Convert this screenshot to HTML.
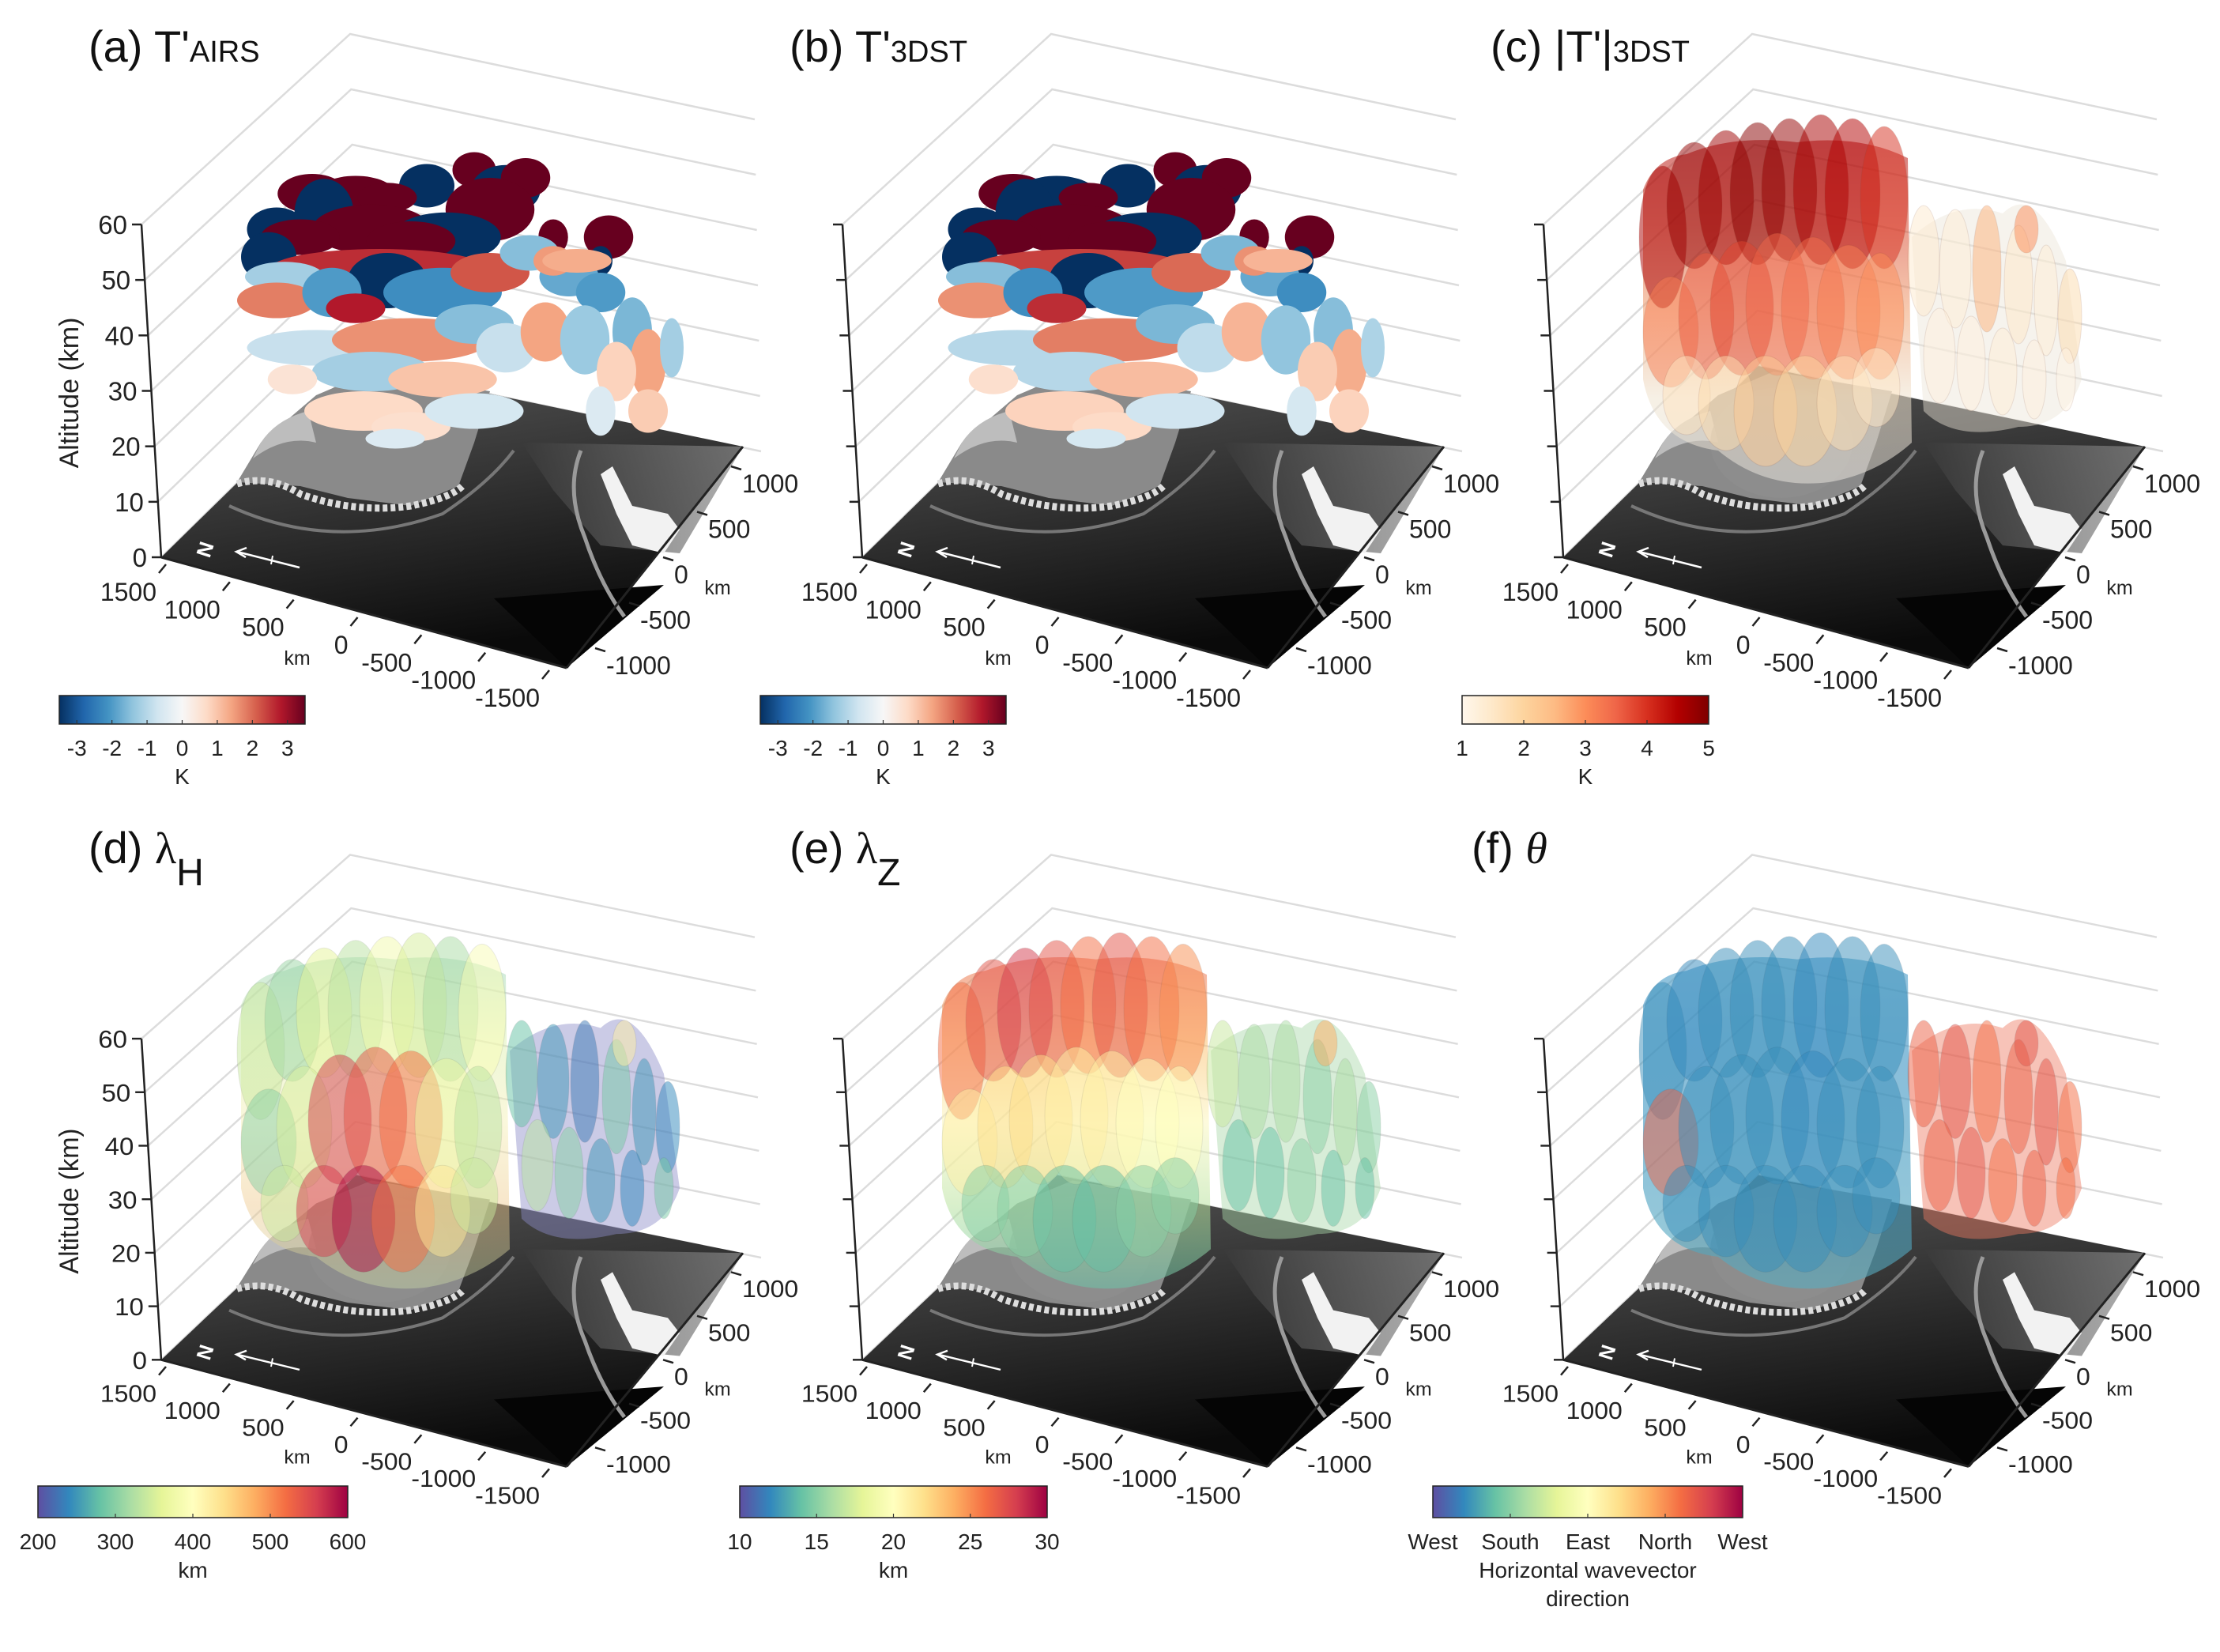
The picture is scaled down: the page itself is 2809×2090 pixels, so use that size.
<!DOCTYPE html>
<html><head><meta charset="utf-8"><style>
html,body{margin:0;padding:0;background:#fff;}
svg{display:block;font-family:"Liberation Sans",sans-serif;}
</style></head><body>
<svg id="fig" xmlns="http://www.w3.org/2000/svg" width="2809" height="2090" viewBox="0 0 2809 2090">
<defs>
<linearGradient id="floorGrad" x1="0" y1="0" x2="0.3" y2="1">
<stop offset="0" stop-color="#5a5a5a"/><stop offset="0.5" stop-color="#333"/><stop offset="1" stop-color="#0a0a0a"/></linearGradient>
<linearGradient id="rightGrad" x1="0" y1="0" x2="1" y2="0">
<stop offset="0" stop-color="#3a3a3a"/><stop offset="1" stop-color="#8a8a8a"/></linearGradient>
</defs>
</svg>
<script>
// ---------- data ----------
const altTicks = [0,10,20,30,40,50,60];
const xTicks = [1500,1000,500,0,-500,-1000,-1500];
const yTicks = [1000,500,0,-500,-1000];
const cbTicksA = [-3,-2,-1,0,1,2,3];
const cbTicksC = [1,2,3,4,5];
const cbTicksD = [200,300,400,500,600];
const cbTicksE = [10,15,20,25,30];
const cbTicksF = ["West","South","East","North","West"];
// blob layout for AIRS/3DST perturbation panels: [cx, cy, rx, ry]
const blobPosAB = [[600,215,22,18],[640,240,35,25],[665,225,25,20],[395,245,35,20],[450,245,40,18],[540,235,28,22],[490,250,30,15],[620,265,45,32],[350,290,30,22],[410,270,30,35],[470,290,60,25],[380,300,40,18],[565,300,55,25],[340,325,28,25],[520,305,45,20],[770,300,25,22],[760,330,12,15],[700,300,15,18],
[480,340,110,20],[490,355,40,28],[360,350,40,15],[350,380,40,18],[420,370,30,25],[450,390,30,15],[560,370,60,25],[620,345,40,20],[670,320,30,18],[720,350,30,20],[760,370,25,20],[700,330,20,15],[730,330,35,12],
[400,440,70,18],[520,430,80,22],[600,410,40,20],[640,440,30,25],[470,470,60,20],[560,480,55,18],[690,420,25,30],[740,430,25,35],[800,420,20,35],[820,460,18,35],[780,470,20,30],[850,440,12,30],
[460,520,60,20],[520,540,40,15],[370,480,25,15],[600,520,50,18],[820,520,20,22],[760,520,15,25],[500,555,30,10]];
const valuesA = [3.5,-3.5,3.5,3.5,3.5,-3.5,3.5,3.5,-3.5,-3.5,3.5,3.5,-3.5,-3.5,3.5,3.5,-3.5,3.5,
2.6,-3.5,-1.2,1.8,-2.0,2.8,-2.2,2.2,-1.5,-1.8,-2.0,1.5,1.3,
-0.8,1.6,-1.5,-0.8,-1.2,1.0,1.4,-1.3,-1.6,1.4,0.8,-1.2,
0.7,0.6,0.5,-0.6,0.9,-0.5,-0.5];
const valuesB = [3.5,-3.5,3.5,3.5,-3.5,-3.5,3.5,3.5,-3.5,-3.5,3.5,3.5,-3.5,-3.5,3.5,3.5,-3.5,3.5,
2.4,-3.5,-1.5,1.6,-2.2,2.6,-2.0,2.0,-1.6,-1.8,-2.2,1.6,1.2,
-1.0,1.8,-1.6,-0.9,-1.0,1.1,1.2,-1.4,-1.5,1.3,0.9,-1.1,
0.8,0.7,0.6,-0.7,0.8,-0.6,-0.6];
// column layout for 3DST derived fields: [cx, cy, rx, ry]
const colPos = [[330,300,30,90],[370,260,35,80],[410,250,35,85],[450,245,35,90],[490,240,35,90],[530,240,35,95],[570,245,35,95],[610,250,30,90],
[340,420,35,70],[385,400,35,80],[430,390,40,85],[475,385,40,90],[520,390,40,90],[565,395,40,85],[605,400,30,80],
[360,500,30,50],[410,510,35,60],[460,520,40,70],[510,520,40,70],[560,510,35,60],[600,490,30,50],
[660,330,20,70],[700,340,20,75],[740,340,18,80],[780,360,18,75],[815,380,15,70],[845,400,15,60],[680,450,20,60],[720,460,18,60],[760,470,18,55],[800,480,15,50],[840,480,12,40],[790,290,15,30]];
const valuesC = [4.6,4.8,4.7,4.9,4.8,4.6,4.5,4.0, 3.2,3.6,3.8,3.5,3.4,3.2,3.0, 1.6,1.8,2.2,2.0,1.7,1.5, 1.4,1.3,2.6,1.5,1.3,1.8,1.2,1.2,1.3,1.2,1.1,3.0];
const valuesD = [340,310,360,330,380,350,320,390, 300,350,560,540,520,370,330, 340,560,590,520,430,340, 280,250,230,290,250,240,330,300,250,240,290,420];
const valuesE = [26,27,28,27,26,27,26,25, 21,22,22,21,21,20,20, 15,15,14,14,15,15, 17,16,16,15,16,15,14,14,15,14,14,24];
const valuesF = [0.45,0.4,0.45,0.45,0.45,0.4,0.45,0.45, 3.3,0.45,0.45,0.45,0.4,0.45,0.45, 0.45,0.45,0.45,0.45,0.45,0.45, 3.3,3.4,3.2,3.3,3.4,3.2,3.3,3.4,3.2,3.3,3.2,3.4];

// ---------- colormaps ----------
const RdBu = ["#053061","#2166ac","#4393c3","#92c5de","#d1e5f0","#f7f7f7","#fddbc7","#f4a582","#d6604d","#b2182b","#67001f"];
const OrRd = ["#fff7ec","#fee8c8","#fdd49e","#fdbb84","#fc8d59","#ef6548","#d7301f","#b30000","#7f0000"];
const Spec = ["#5e4fa2","#3288bd","#66c2a5","#abdda4","#e6f598","#ffffbf","#fee08b","#fdae61","#f46d43","#d53e4f","#9e0142"];
function hex(c){return [parseInt(c.substr(1,2),16),parseInt(c.substr(3,2),16),parseInt(c.substr(5,2),16)];}
function cmap(stops,t){t=Math.max(0,Math.min(1,t));const p=t*(stops.length-1);const i=Math.min(stops.length-2,Math.floor(p));const f=p-i;const a=hex(stops[i]),b=hex(stops[i+1]);
return "rgb("+a.map((v,k)=>Math.round(v+(b[k]-v)*f)).join(",")+")";}

const NS="http://www.w3.org/2000/svg";
const svg=document.getElementById("fig");
const defs=svg.querySelector("defs");
function mk(tag,attrs,parent){const e=document.createElementNS(NS,tag);for(const k in attrs)e.setAttribute(k,attrs[k]);parent.appendChild(e);return e;}

// axis functions (panel-local coordinates)
function altPt(a){const f=(60-a)/60;return [179+f*25,284+f*421];}
function backPt(a){const f=(60-a)/60;return [443+f*8,43+f*420];}
function xPt(v){const t=(1500-v)/3000;return [210+t*485,714+t*134];}
function yPt(v){const t=(1000-v)/2000;return [925-t*172,590+t*230];}

let gradId=0;
function colorbar(parent,x0,x1,y0,y1,stops,ticks,tickPos,unitLines,name){
  const id="cb"+(gradId++);
  const lg=mk("linearGradient",{id:id,x1:0,y1:0,x2:1,y2:0},defs);
  stops.forEach((c,i)=>mk("stop",{offset:i/(stops.length-1),"stop-color":c},lg));
  const g=mk("g",{},parent);
  
  
  const r=mk("rect",{x:x0,y:y0,width:x1-x0,height:y1-y0,fill:"url(#"+id+")",stroke:"#222","stroke-width":1.5},g);
  
  
  ticks.forEach((t,i)=>{
    const x=x0+tickPos(i)*(x1-x0);
    mk("line",{x1:x,y1:y1,x2:x,y2:y1-5,stroke:"#333","stroke-width":1.2},g);
    const tx=mk("text",{x:x,y:y1+40,"font-size":28,"text-anchor":"middle",fill:"#222"},g);
    tx.textContent=String(t);
    
    
  });
  unitLines.forEach((u,i)=>{
    const tx=mk("text",{x:(x0+x1)/2,y:y1+76+i*36,"font-size":28,"text-anchor":"middle",fill:"#222"},g);
    tx.textContent=u;
    
    
  });
}

function panel(ox,oy,sy,opts){
  const g=mk("g",{transform:"translate("+ox+","+oy+") scale(1,"+sy+")"},svg);
  
  
  altTicks.forEach(a=>{
    const p=altPt(a),b=backPt(a);
    const ln=mk("polyline",{points:p.join(",")+" "+b.join(",")+" "+(b[0]+512)+","+(b[1]+108),fill:"none",stroke:"#dcdcdc","stroke-width":2.5},g);
    
    
  });
  const fl=mk("g",{},g);
  
  
  mk("polygon",{points:"204,705 451,463 940,565 717,845",fill:"url(#floorGrad)"},fl);
  mk("polygon",{points:"660,560 940,565 860,700 760,690 700,620",fill:"url(#rightGrad)",opacity:0.7},fl);
  mk("polygon",{points:"717,845 625,757 840,740",fill:"#050505"},fl);
  mk("path",{d:"M300,610 L330,560 L400,500 L470,470 L620,495 L600,560 L580,615 L520,640 L440,630 L380,615 Z",fill:"#8a8a8a"},fl);
  mk("path",{d:"M300,612 Q340,600 380,625 Q450,650 520,640 Q570,630 585,615",fill:"none",stroke:"#ddd","stroke-width":9,"stroke-dasharray":"6,4"},fl);
  mk("path",{d:"M320,580 Q360,550 400,560 L390,520 Q350,530 330,560 Z",fill:"#bdbdbd"},fl);
  mk("path",{d:"M760,600 L775,590 L800,640 L845,650 L860,670 L840,700 L800,690 L780,650 Z",fill:"#f2f2f2"},fl);
  mk("path",{d:"M290,640 Q420,700 560,650 Q620,610 650,570",fill:"none",stroke:"#777","stroke-width":4},fl);
  mk("path",{d:"M735,570 Q715,620 740,680 Q760,740 790,780",fill:"none",stroke:"#9a9a9a","stroke-width":5},fl);
  if(opts.gray){mk("ellipse",{cx:480,cy:560,rx:90,ry:70,fill:"#8f8f8f",opacity:0.7},g);}
  const mg=mk("g",{},g);
  
  
  if(opts.silhouette){
    const id="sil"+(gradId++);
    const lg=mk("linearGradient",{id:id,x1:0,y1:0,x2:0,y2:1},defs);
    opts.silhouette.forEach((c,i)=>mk("stop",{offset:i/(opts.silhouette.length-1),"stop-color":c},lg));
    mk("path",{d:"M305,240 Q320,200 360,195 Q420,170 500,180 Q580,170 640,200 L645,560 Q600,600 540,610 Q460,620 400,570 Q320,560 305,480 Z",fill:"url(#"+id+")",opacity:opts.silOp},mg);
    mk("path",{d:"M645,300 Q700,250 760,270 Q800,230 840,330 L860,480 Q840,540 780,540 Q700,560 660,520 Z",fill:opts.rightFill,opacity:0.45},mg);
  }
  const sx=opts.sx||1, syb=opts.syb||1;
  opts.pos.forEach((p,i)=>{
    const e=mk("ellipse",{cx:p[0],cy:p[1],rx:p[2]*sx,ry:p[3]*syb,fill:cmap(opts.stops,opts.norm(opts.vals[i])),opacity:opts.op,stroke:opts.stroke||"none","stroke-width":1},mg);
    
    
  });
  const ax=mk("g",{},g);
  
  
  const a0=altPt(0),a60=altPt(60);
  mk("line",{x1:a0[0],y1:a0[1],x2:a60[0],y2:a60[1],stroke:"#222","stroke-width":2.5},ax);
  altTicks.forEach(a=>{
    const p=altPt(a);
    mk("line",{x1:p[0],y1:p[1],x2:p[0]-12,y2:p[1],stroke:"#222","stroke-width":2.5},ax);
    if(opts.labels){
      const t=mk("text",{x:p[0]-18,y:p[1]+12,"font-size":33,"text-anchor":"end",fill:"#222"},ax);
      t.textContent=String(a);
      
      
    }
  });
  if(opts.labels){
    const t=mk("text",{x:0,y:0,"font-size":34,"text-anchor":"middle",fill:"#222",transform:"translate(99,497) rotate(-90)"},ax);
    t.textContent="Altitude (km)";
    
    
  }
  mk("line",{x1:204,y1:705,x2:717,y2:845,stroke:"#222","stroke-width":3},ax);
  mk("line",{x1:717,y1:845,x2:940,y2:565,stroke:"#222","stroke-width":3},ax);
  xTicks.forEach(v=>{
    const p=xPt(v);
    mk("line",{x1:p[0],y1:p[1],x2:p[0]-9,y2:p[1]+11,stroke:"#222","stroke-width":2.5},ax);
    const t=mk("text",{x:p[0]-12,y:p[1]+46,"font-size":32,"text-anchor":"end",fill:"#222"},ax);
    t.textContent=String(v);
    
    
  });
  yTicks.forEach(v=>{
    const p=yPt(v);
    mk("line",{x1:p[0],y1:p[1],x2:p[0]+13,y2:p[1]+4,stroke:"#222","stroke-width":2.5},ax);
    const t=mk("text",{x:p[0]+14,y:p[1]+33,"font-size":32,"text-anchor":"start",fill:"#222"},ax);
    t.textContent=String(v);
    
    
  });
  const k1=mk("text",{x:376,y:841,"font-size":25,"text-anchor":"middle",fill:"#222"},ax);
  k1.textContent="km";
  
  
  const k2=mk("text",{x:908,y:752,"font-size":25,"text-anchor":"middle",fill:"#222"},ax);
  k2.textContent="km";
  
  
  const na=mk("g",{},g);
  
  
  const nt=mk("text",{x:0,y:0,"font-size":26,"font-weight":"bold",fill:"#fff","text-anchor":"middle",transform:"translate(268,698) rotate(-72)"},na);
  nt.textContent="N";
  mk("line",{x1:300,y1:698,x2:379,y2:718,stroke:"#fff","stroke-width":2.5},na);
  mk("polyline",{points:"312,693 299,698 311,705",fill:"none",stroke:"#fff","stroke-width":2.5},na);
  mk("line",{x1:345,y1:703,x2:343,y2:714,stroke:"#fff","stroke-width":2},na);
  return g;
}

function title(x,y,parts,name){
  const t=mk("text",{x:x,y:y,fill:"#111"},svg);
  
  
  parts.forEach(p=>{const s=mk("tspan",p[1],t);s.textContent=p[0];});
}

const RX=887, R2=1040, S2=0.965;
const normA=v=>(v+3.5)/7, normC=v=>(v-1)/4, normD=v=>(v-200)/400, normE=v=>(v-10)/20, normF=v=>v/4;

panel(0,0,1,{name:"panel-a",labels:true,pos:blobPosAB,vals:valuesA,stops:RdBu,norm:normA,op:1,sx:1.25,syb:1.25});
panel(RX,0,1,{name:"panel-b",labels:false,pos:blobPosAB,vals:valuesB,stops:RdBu,norm:normA,op:1,sx:1.25,syb:1.25});
panel(2*RX,0,1,{name:"panel-c",labels:false,gray:true,pos:colPos,vals:valuesC,stops:OrRd,norm:normC,op:0.5,
  silhouette:["#b31515","#d84a30","#f0a070","#efe3cf","#e6e2dc"],silOp:0.55,rightFill:"#ece4d6",stroke:"rgba(120,60,40,0.25)"});
panel(0,R2,S2,{name:"panel-d",labels:true,gray:true,pos:colPos,vals:valuesD,stops:Spec,norm:normD,op:0.5,
  silhouette:["#8fcfb0","#d8eea8","#f4eeb0","#eec78a","#c8d8a8"],silOp:0.45,rightFill:"#8c8cc8",stroke:"rgba(60,60,60,0.2)"});
panel(RX,R2,S2,{name:"panel-e",labels:false,gray:true,pos:colPos,vals:valuesE,stops:Spec,norm:normE,op:0.5,
  silhouette:["#e8684a","#fbbf70","#fbf7c0","#b9e3a0","#6cc4a8"],silOp:0.55,rightFill:"#a8d8a8",stroke:"rgba(60,60,60,0.2)"});
panel(2*RX,R2,S2,{name:"panel-f",labels:false,gray:true,pos:colPos,vals:valuesF,stops:Spec,norm:normF,op:0.5,
  silhouette:["#4a9ec8","#3a92c4","#3d96c0","#4aa0c0","#5aaec0"],silOp:0.6,rightFill:"#ee7a62",stroke:"rgba(40,60,80,0.2)"});

colorbar(svg,75,386,880,916,RdBu,cbTicksA,i=>(cbTicksA[i]+3.5)/7,["K"],"colorbar-a");
colorbar(svg,RX+75,RX+386,880,916,RdBu,cbTicksA,i=>(cbTicksA[i]+3.5)/7,["K"],"colorbar-b");
colorbar(svg,2*RX+76,2*RX+388,880,916,OrRd,cbTicksC,i=>(cbTicksC[i]-1)/4,["K"],"colorbar-c");
colorbar(svg,48,440,1880,1920,Spec,cbTicksD,i=>(cbTicksD[i]-200)/400,["km"],"colorbar-d");
colorbar(svg,RX+49,RX+438,1880,1920,Spec,cbTicksE,i=>(cbTicksE[i]-10)/20,["km"],"colorbar-e");
colorbar(svg,2*RX+39,2*RX+431,1880,1920,Spec,cbTicksF,i=>i/4,["Horizontal wavevector","direction"],"colorbar-f");

title(112,78,[["(a) T'",{"font-size":56}],["AIRS",{"font-size":38}]],"title-a");
title(RX+112,78,[["(b) T'",{"font-size":56}],["3DST",{"font-size":38}]],"title-b");
title(2*RX+112,78,[["(c) |T'|",{"font-size":56}],["3DST",{"font-size":38}]],"title-c");
title(112,1092,[["(d) ",{"font-size":56}],["λ",{"font-size":56,"font-family":"Liberation Serif, serif"}],["H",{"font-size":48,dy:28}]],"title-d");
title(RX+112,1092,[["(e) ",{"font-size":56}],["λ",{"font-size":56,"font-family":"Liberation Serif, serif"}],["Z",{"font-size":48,dy:28}]],"title-e");
title(2*RX+88,1092,[["(f) ",{"font-size":56}],["θ",{"font-size":56,"font-style":"italic","font-family":"Liberation Serif, serif"}]],"title-f");
</script>
</body></html>
